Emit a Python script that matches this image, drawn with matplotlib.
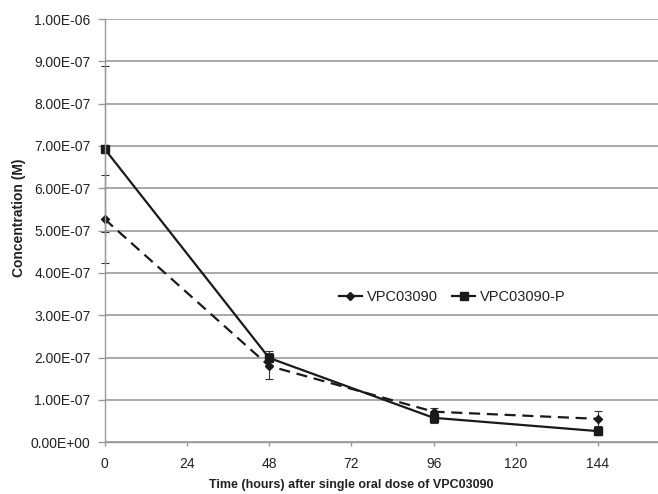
import matplotlib
matplotlib.use("Agg")
import matplotlib.pyplot as plt
from matplotlib.lines import Line2D
from matplotlib.ticker import FuncFormatter

plt.rcParams['font.family'] = ['Liberation Sans', 'DejaVu Sans']

# Time points (hours)
hours = [0, 48, 96, 144]

# VPC03090 (diamonds, dashed)
parent_conc = [5.27e-7, 1.80e-7, 7.2e-8, 5.5e-8]
parent_err = [1.04e-7, 3.0e-8, 9e-9, 1.8e-8]

# VPC03090-P (squares, solid)
prodrug_conc = [6.93e-7, 1.99e-7, 5.75e-8, 2.6e-8]
prodrug_err = [1.96e-7, 1.7e-8, 1.2e-8, 8e-9]

series_names = ["VPC03090", "VPC03090-P"]
y_ticks = [i * 1e-7 for i in range(11)]
x_ticks = [0, 24, 48, 72, 96, 120, 144]


def sci_label(v, pos):
    # Excel-style scientific label, e.g. 1.00E-07
    if v == 0:
        return "0.00E+00"
    mant, exp = f"{v:.2E}".split("E")
    return f"{mant}E{exp[0]}{abs(int(exp)):02d}"


fig = plt.figure(figsize=(6.58, 4.94), dpi=100)
ax = fig.add_axes([0.159, 0.105, 0.841, 0.8565])

line_col = "#1a1a1a"
grid_col = "#999999"
text_col = "#222222"

common = dict(color=line_col, linewidth=1.6, ecolor="#333333",
              elinewidth=0.8, capsize=3, capthick=0.8, clip_on=False)
ax.errorbar(hours, parent_conc, yerr=parent_err, linestyle=(0, (5, 3)),
            marker="D", markersize=4.5, **common)
ax.errorbar(hours, prodrug_conc, yerr=prodrug_err, linestyle="-",
            marker="s", markersize=6, **common)

ax.set_xlim(0, 161.5)
ax.set_ylim(0, 1e-6)
ax.set_xticks(x_ticks)
ax.set_yticks(y_ticks)
ax.yaxis.set_major_formatter(FuncFormatter(sci_label))

ax.grid(axis="y", color=grid_col, linewidth=1.2)
ax.set_axisbelow(True)
for side in ["top", "right"]:
    ax.spines[side].set_visible(False)
for side in ["left", "bottom"]:
    ax.spines[side].set_color(grid_col)
    ax.spines[side].set_linewidth(1.0)

ax.tick_params(axis="both", colors=grid_col, labelcolor=text_col,
               labelsize=10, width=1.0)
ax.tick_params(axis="y", length=5, pad=5)
ax.tick_params(axis="x", length=3, pad=8)

ax.set_xlabel("Time (hours) after single oral dose of VPC03090",
              fontsize=9, fontweight="bold", color=text_col)
ax.xaxis.set_label_coords(0.446, -0.088)
ax.set_ylabel("Concentration (M)", fontsize=10, fontweight="bold",
              color=text_col)
ax.yaxis.set_label_coords(-0.142, 0.53)

handles = [
    Line2D([], [], color=line_col, linewidth=1.6, marker="D", markersize=4.5),
    Line2D([], [], color=line_col, linewidth=1.6, marker="s", markersize=6),
]
ax.legend(handles, series_names, loc="center", bbox_to_anchor=(0.628, 0.343),
          ncol=2, frameon=False, fontsize=10.5, handlelength=1.6,
          handletextpad=0.3, columnspacing=1.0, labelcolor=text_col)

fig.savefig("out.png", dpi=100)
